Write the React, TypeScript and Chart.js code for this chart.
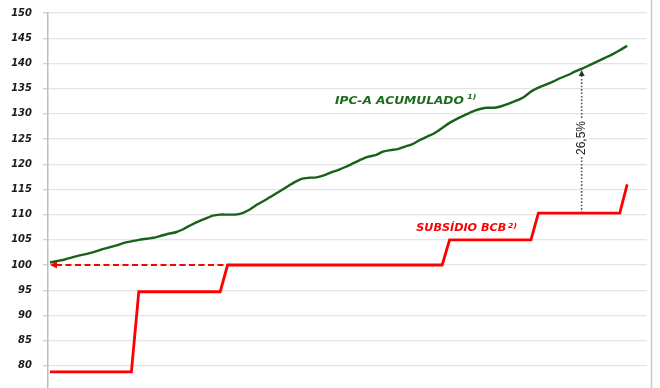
import React, { useEffect, useRef } from 'react';
import { Chart, registerables } from 'chart.js';

Chart.register(...registerables);

// Monthly index (category positions)
const months: number[] = [
  0, 1, 2, 3, 4, 5, 6, 7, 8, 9, 10, 11, 12, 13, 14, 15, 16, 17, 18, 19,
  20, 21, 22, 23, 24, 25, 26, 27, 28, 29, 30, 31, 32, 33, 34, 35, 36, 37, 38, 39,
  40, 41, 42, 43, 44, 45, 46, 47, 48, 49, 50, 51, 52, 53, 54, 55, 56, 57, 58, 59,
  60, 61, 62, 63, 64, 65, 66, 67, 68, 69, 70, 71, 72, 73, 74, 75, 76, 77, 78,
];

// IPC-A acumulado (index, base 100)
const ipcaAcumulado: number[] = [
  100.5, 100.8, 101.1, 101.5, 101.9, 102.2, 102.6, 103.1, 103.5, 103.9,
  104.4, 104.7, 105.0, 105.2, 105.4, 105.8, 106.2, 106.5, 107.1, 107.9,
  108.6, 109.2, 109.8, 110.0, 110.0, 110.0, 110.3, 111.0, 112.0, 112.8,
  113.7, 114.6, 115.5, 116.4, 117.1, 117.3, 117.4, 117.8, 118.4, 118.9,
  119.5, 120.2, 120.9, 121.5, 121.8, 122.5, 122.8, 123.0, 123.5, 124.0,
  124.8, 125.5, 126.2, 127.2, 128.2, 129.0, 129.7, 130.4, 130.9, 131.2,
  131.2, 131.5, 132.0, 132.6, 133.3, 134.4, 135.2, 135.8, 136.4, 137.1,
  137.7, 138.4, 139.0, 139.7, 140.4, 141.1, 141.8, 142.6, 143.5,
];

// Subsídio BCB (index)
const subsidioBcb: number[] = [
  78.8, 78.8, 78.8, 78.8, 78.8, 78.8, 78.8, 78.8, 78.8, 78.8, 78.8, 78.8,
  94.7, 94.7, 94.7, 94.7, 94.7, 94.7, 94.7, 94.7, 94.7, 94.7, 94.7, 94.7,
  100, 100, 100, 100, 100, 100, 100, 100, 100, 100, 100, 100, 100, 100, 100,
  100, 100, 100, 100, 100, 100, 100, 100, 100, 100, 100, 100, 100, 100, 100,
  105, 105, 105, 105, 105, 105, 105, 105, 105, 105, 105, 105,
  110.3, 110.3, 110.3, 110.3, 110.3, 110.3, 110.3, 110.3, 110.3, 110.3, 110.3, 110.3,
  116,
];

const yTicks: number[] = [80, 85, 90, 95, 100, 105, 110, 115, 120, 125, 130, 135, 140, 145, 150];

const ipcaLabel = 'IPC-A ACUMULADO';
const ipcaNote = '1)';
const subsidioLabel = 'SUBSÍDIO BCB';
const subsidioNote = '2)';
const gapLabel = '26,5%';
const gapMonth = 72;

const GREEN = '#186218';
const GREEN_TEXT = '#1d6b1d';
const RED = '#ff0000';

function drawStretched(
  ctx: CanvasRenderingContext2D,
  text: string,
  left: number,
  cy: number,
  font: string,
  color: string,
  width: number
) {
  ctx.save();
  ctx.font = font;
  const w = ctx.measureText(text).width;
  ctx.translate(left, cy);
  ctx.scale(width / w, 1);
  ctx.fillStyle = color;
  ctx.textAlign = 'left';
  ctx.textBaseline = 'middle';
  ctx.fillText(text, 0, 0);
  ctx.restore();
}

const annotationPlugin = {
  id: 'customAnnotations',
  afterDatasetsDraw(chart: any) {
    const ctx: CanvasRenderingContext2D = chart.ctx;
    const xs = chart.scales.x;
    const ys = chart.scales.y;
    ctx.save();

    // dashed reference line at 100 with left arrow
    const x0 = xs.getPixelForValue(months[0]);
    const x1 = xs.getPixelForValue(months[24]);
    const y100 = ys.getPixelForValue(100);
    ctx.strokeStyle = RED;
    ctx.lineWidth = 2;
    ctx.setLineDash([6, 3.5]);
    ctx.beginPath();
    ctx.moveTo(x0 + 6, y100);
    ctx.lineTo(x1, y100);
    ctx.stroke();
    ctx.setLineDash([]);
    ctx.fillStyle = RED;
    ctx.beginPath();
    ctx.moveTo(x0, y100);
    ctx.lineTo(x0 + 7, y100 - 3.5);
    ctx.lineTo(x0 + 7, y100 + 3.5);
    ctx.closePath();
    ctx.fill();

    // vertical dotted arrow between series
    const ax = xs.getPixelForValue(months[gapMonth] - 0.15);
    const yTop = ys.getPixelForValue(ipcaAcumulado[gapMonth]) + 1.5;
    const yBot = ys.getPixelForValue(subsidioBcb[gapMonth]);
    ctx.strokeStyle = '#555555';
    ctx.lineWidth = 1.6;
    ctx.setLineDash([1.6, 1.8]);
    ctx.beginPath();
    ctx.moveTo(ax, yBot);
    ctx.lineTo(ax, yTop + 5);
    ctx.stroke();
    ctx.setLineDash([]);
    ctx.fillStyle = '#333333';
    ctx.beginPath();
    ctx.moveTo(ax, yTop);
    ctx.lineTo(ax - 3, yTop + 6);
    ctx.lineTo(ax + 3, yTop + 6);
    ctx.closePath();
    ctx.fill();

    // rotated gap label
    const ty = ys.getPixelForValue(125.2);
    ctx.save();
    ctx.translate(ax, ty);
    ctx.rotate(-Math.PI / 2);
    ctx.font = '12px "Liberation Sans"';
    const tw = ctx.measureText(gapLabel).width;
    ctx.fillStyle = '#ffffff';
    ctx.fillRect(-tw / 2 - 2, -6.5, tw + 4, 13);
    ctx.fillStyle = '#222222';
    ctx.textAlign = 'center';
    ctx.textBaseline = 'middle';
    ctx.fillText(gapLabel, 0, 0.5);
    ctx.restore();

    // series labels
    drawStretched(
      ctx, ipcaLabel,
      xs.getPixelForValue(38.5), ys.getPixelForValue(132.5),
      'italic bold 10.5px "DejaVu Sans"', GREEN_TEXT, 129
    );
    drawStretched(
      ctx, ipcaNote,
      xs.getPixelForValue(56.4), ys.getPixelForValue(133.3),
      'italic bold 7px "DejaVu Sans"', GREEN_TEXT, 9
    );
    drawStretched(
      ctx, subsidioLabel,
      xs.getPixelForValue(49.5), ys.getPixelForValue(107.2),
      'italic bold 10.5px "DejaVu Sans"', RED, 90
    );
    drawStretched(
      ctx, subsidioNote,
      xs.getPixelForValue(61.9), ys.getPixelForValue(107.8),
      'italic bold 7px "DejaVu Sans"', RED, 9
    );

    ctx.restore();
  },
  afterDraw(chart: any) {
    const ctx: CanvasRenderingContext2D = chart.ctx;
    const xr = chart.chartArea.right + 4.5;
    ctx.save();
    ctx.strokeStyle = '#c8c8c8';
    ctx.lineWidth = 1.5;
    ctx.beginPath();
    ctx.moveTo(xr, 0);
    ctx.lineTo(xr, chart.height);
    ctx.stroke();
    ctx.restore();
  },
};

export default function App() {
  const canvasRef = useRef<HTMLCanvasElement | null>(null);

  useEffect(() => {
    document.body.style.margin = '0';
    const canvas = canvasRef.current;
    if (!canvas) return;
    const chart = new Chart(canvas, {
      type: 'line',
      data: {
        datasets: [
          {
            label: ipcaLabel,
            data: ipcaAcumulado.map((v, i) => ({ x: months[i], y: v })),
            borderColor: GREEN,
            borderWidth: 2.4,
            pointRadius: 0,
            tension: 0.2,
          },
          {
            label: subsidioLabel,
            data: subsidioBcb.map((v, i) => ({ x: months[i], y: v })),
            borderColor: RED,
            borderWidth: 2.8,
            pointRadius: 0,
            tension: 0,
          },
        ],
      },
      options: {
        animation: false,
        responsive: false,
        maintainAspectRatio: false,
        layout: { padding: { top: 13, right: 13, bottom: 0, left: 0 } },
        plugins: {
          legend: { display: false },
          tooltip: { enabled: false },
        },
        scales: {
          x: {
            type: 'linear',
            min: -0.27,
            max: 80.68,
            display: false,
          },
          y: {
            min: 75.6,
            max: 150,
            afterBuildTicks: (scale: any) => {
              scale.ticks = yTicks.map((v) => ({ value: v }));
            },
            afterFit: (scale: any) => {
              scale.width = 48;
              scale.paddingTop = 0;
              scale.paddingBottom = 0;
            },
            grid: {
              color: '#e4e4e4',
              lineWidth: 1.3,
              tickLength: 5,
              tickColor: '#d2d2d2',
            },
            border: { color: '#bdbdbd', width: 1.5 },
            ticks: {
              color: '#1a1a1a',
              padding: 11,
              font: { family: '"DejaVu Sans"', size: 10, weight: 'bold', style: 'italic' },
            },
          },
        },
      },
      plugins: [annotationPlugin],
    });
    return () => chart.destroy();
  }, []);

  return (
    <div style={{ width: 660, height: 388, background: '#ffffff', overflow: 'hidden' }}>
      <canvas ref={canvasRef} width={660} height={388} style={{ display: 'block', width: 660, height: 388 }} />
    </div>
  );
}
